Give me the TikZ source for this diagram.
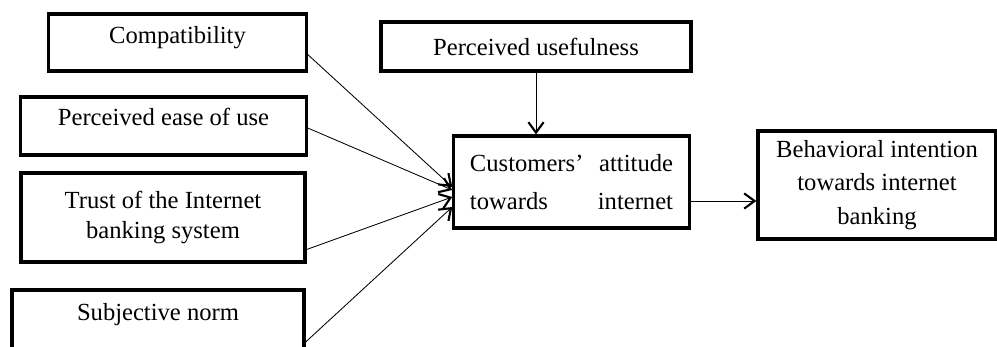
\documentclass[tikz,border=0pt]{standalone}
\usepackage{fontspec}
\setmainfont{Liberation Serif}
\usepackage{tikz}
\usetikzlibrary{arrows.meta, positioning, calc}

\begin{document}
\begin{tikzpicture}[
  x=0.025cm, y=-0.025cm,
  box/.style={draw, line width=2.3pt, fill=white, align=center, inner sep=2pt, font=\fontsize{17.5}{22}\selectfont},
  arr/.style={-{Straight Barb[length=2.6mm, width=3.8mm, line width=1.5pt]}, line width=0.6pt},
]
\useasboundingbox (0,0) rectangle (997,347);

% Antecedents (left column)
\node[box, minimum width=6.43cm, minimum height=1.43cm, text depth=0.38cm] (compat) at (177.5,42.5) {Compatibility};
\node[box, minimum width=7.13cm, minimum height=1.45cm, text depth=0.45cm] (ease)   at (163.5,126)  {Perceived ease of use};
\node[box, minimum width=7.1cm,  minimum height=2.23cm] (trust)  at (163,217.5)  {Trust of the Internet\\banking system};
\node[box, minimum width=7.3cm,  minimum height=1.6cm, text depth=0.5cm]  (subj)   at (158,322)    {Subjective norm};

% Middle and right
\node[box, minimum width=7.75cm, minimum height=1.23cm] (useful)   at (536,46.5) {Perceived usefulness};
\node[box, minimum width=5.88cm, minimum height=2.3cm, font=\fontsize{17.5}{27}\selectfont] (attitude) at (571.5,182)
  {\makebox[5.075cm]{Customers’\hfill attitude}\\\makebox[5.075cm]{towards\hfill internet}};
\node[box, minimum width=5.95cm, minimum height=2.7cm, font=\fontsize{17.5}{24}\selectfont] (behav) at (877,185)
  {Behavioral intention\\towards internet\\banking};

% Arrows into attitude
\draw[arr] ($(compat.east)+(0,12)$) -- ($(attitude.west)+(0,5)$);
\draw[arr] ($(ease.east)+(0,2)$)    -- ($(attitude.west)+(0,8)$);
\draw[arr] ($(trust.east)+(0,32)$)  -- ($(attitude.west)+(0,15)$);
\draw[arr] ($(subj.east)+(0,20)$)   -- ($(attitude.west)+(0,25)$);
\draw[arr] (useful.south) -- (useful.south |- attitude.north);

% Attitude to intention
\draw[arr] ($(attitude.east)+(0,19)$) -- ($(behav.west)+(0,16)$);

\end{tikzpicture}
\end{document}
